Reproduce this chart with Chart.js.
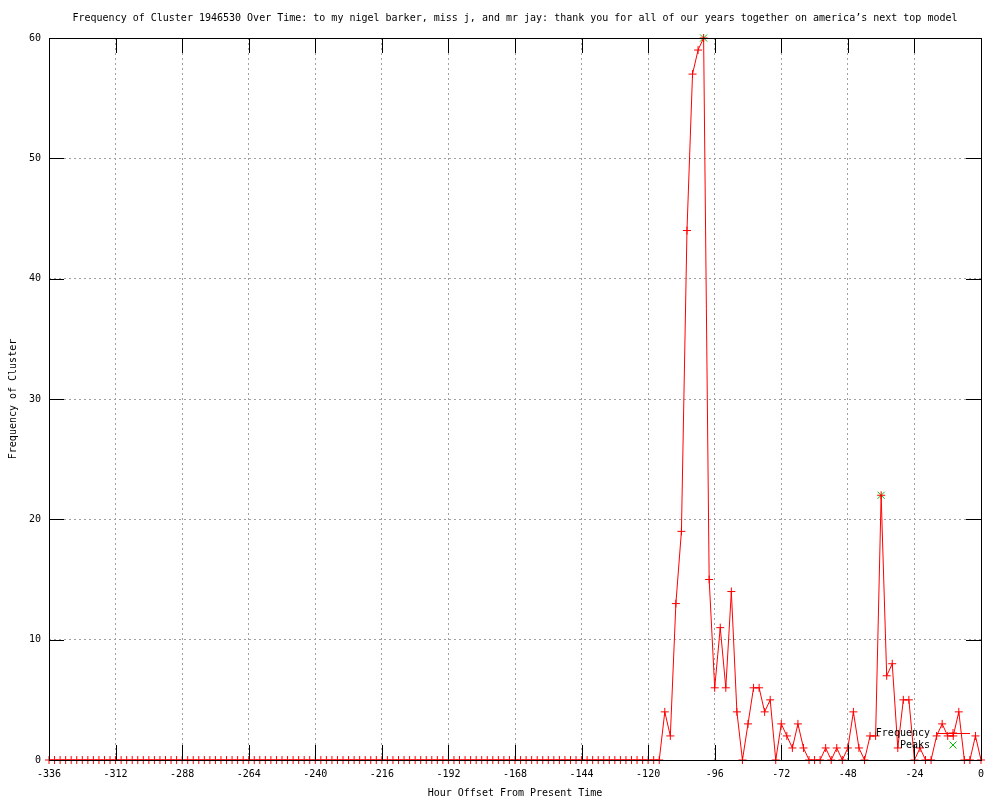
<!DOCTYPE html>
<html>
<head>
<meta charset="utf-8">
<script src="https://cdn.jsdelivr.net/npm/chart.js@4/dist/chart.umd.min.js"></script>
<style>
  body { margin: 0; background: #fff; }
  #wrap { width: 1000px; height: 800px; }
</style>
</head>
<body>
<div id="wrap"><canvas id="clusterChart" width="1000" height="800"></canvas></div>
<script>
// hour offsets (every 2 hours)
const hours = [
  -336, -334, -332, -330, -328, -326, -324, -322, -320, -318, -316, -314,
  -312, -310, -308, -306, -304, -302, -300, -298, -296, -294, -292, -290,
  -288, -286, -284, -282, -280, -278, -276, -274, -272, -270, -268, -266,
  -264, -262, -260, -258, -256, -254, -252, -250, -248, -246, -244, -242,
  -240, -238, -236, -234, -232, -230, -228, -226, -224, -222, -220, -218,
  -216, -214, -212, -210, -208, -206, -204, -202, -200, -198, -196, -194,
  -192, -190, -188, -186, -184, -182, -180, -178, -176, -174, -172, -170,
  -168, -166, -164, -162, -160, -158, -156, -154, -152, -150, -148, -146,
  -144, -142, -140, -138, -136, -134, -132, -130, -128, -126, -124, -122,
  -120, -118, -116, -114, -112, -110, -108, -106, -104, -102, -100, -98,
  -96, -94, -92, -90, -88, -86, -84, -82, -80, -78, -76, -74,
  -72, -70, -68, -66, -64, -62, -60, -58, -56, -54, -52, -50,
  -48, -46, -44, -42, -40, -38, -36, -34, -32, -30, -28, -26,
  -24, -22, -20, -18, -16, -14, -12, -10, -8, -6, -4, -2,
  0
];
const frequency = [
  0, 0, 0, 0, 0, 0, 0, 0, 0, 0, 0, 0,
  0, 0, 0, 0, 0, 0, 0, 0, 0, 0, 0, 0,
  0, 0, 0, 0, 0, 0, 0, 0, 0, 0, 0, 0,
  0, 0, 0, 0, 0, 0, 0, 0, 0, 0, 0, 0,
  0, 0, 0, 0, 0, 0, 0, 0, 0, 0, 0, 0,
  0, 0, 0, 0, 0, 0, 0, 0, 0, 0, 0, 0,
  0, 0, 0, 0, 0, 0, 0, 0, 0, 0, 0, 0,
  0, 0, 0, 0, 0, 0, 0, 0, 0, 0, 0, 0,
  0, 0, 0, 0, 0, 0, 0, 0, 0, 0, 0, 0,
  0, 0, 0, 4, 2, 13, 19, 44, 57, 59, 60, 15,
  6, 11, 6, 14, 4, 0, 3, 6, 6, 4, 5, 0,
  3, 2, 1, 3, 1, 0, 0, 0, 1, 0, 1, 0,
  1, 4, 1, 0, 2, 2, 22, 7, 8, 1, 5, 5,
  0, 1, 0, 0, 2, 3, 2, 2, 4, 0, 0, 2,
  0
];
const peakHours = [-100, -36];
const peakValues = [60, 22];
const xTicks = [-336, -312, -288, -264, -240, -216, -192, -168, -144, -120, -96, -72, -48, -24, 0];
const yTicks = [0, 10, 20, 30, 40, 50, 60];

const monoFont = { family: 'DejaVu Sans Mono', size: 10 };

// gnuplot style border with inward tick marks on all sides, plus the key
const framePlugin = {
    id: 'frame',
    afterDatasetsDraw(chart) {
        const ctx = chart.ctx;
        const a = chart.chartArea;
        const xs = chart.scales.x, ys = chart.scales.y;
        const tl = 15;
        ctx.save();
        ctx.strokeStyle = '#000';
        ctx.lineWidth = 1;
        ctx.beginPath();
        xTicks.forEach(v => {
            const px = Math.round(xs.getPixelForValue(v)) + 0.5;
            ctx.moveTo(px, a.bottom); ctx.lineTo(px, a.bottom - tl);
            ctx.moveTo(px, a.top); ctx.lineTo(px, a.top + tl);
        });
        yTicks.forEach(v => {
            const py = Math.round(ys.getPixelForValue(v)) + 0.5;
            ctx.moveTo(a.left, py); ctx.lineTo(a.left + tl, py);
            ctx.moveTo(a.right, py); ctx.lineTo(a.right - tl, py);
        });
        ctx.stroke();
        ctx.strokeRect(Math.round(a.left) + 0.5, Math.round(a.top) + 0.5,
            Math.round(a.right - a.left), Math.round(a.bottom - a.top));

        // key
        const ds = chart.data.datasets;
        const kx = a.right - 51, ky = a.bottom - 27;
        ctx.font = '10px "DejaVu Sans Mono"';
        ctx.fillStyle = '#000';
        ctx.textAlign = 'right';
        ctx.textBaseline = 'middle';
        ds.forEach((d, i) => {
            const y = ky + i * 12;
            ctx.fillText(d.label, kx, y);
            ctx.strokeStyle = d.borderColor;
            if (d.showLine !== false) {
                ctx.beginPath();
                ctx.moveTo(kx + 6, y + 0.5); ctx.lineTo(kx + 40, y + 0.5);
                ctx.stroke();
            }
            Chart.helpers.drawPoint(ctx, {
                pointStyle: d.pointStyle, radius: d.pointRadius, borderWidth: 1
            }, kx + 23, y);
        });
        ctx.restore();
    }
};

const ctx = document.getElementById('clusterChart').getContext('2d');
const clusterChart = new Chart(ctx, {
    type: 'line',
    data: {
        datasets: [{
            label: 'Frequency',
            data: hours.map((h, i) => ({ x: h, y: frequency[i] })),
            borderColor: '#ff0000',
            backgroundColor: '#ff0000',
            borderWidth: 1,
            tension: 0,
            fill: false,
            clip: false,
            pointStyle: 'cross',
            pointRadius: 4,
            pointBorderWidth: 1,
            pointBorderColor: '#ff0000'
        }, {
            label: 'Peaks',
            data: peakHours.map((h, i) => ({ x: h, y: peakValues[i] })),
            borderColor: '#00c000',
            backgroundColor: '#00c000',
            showLine: false,
            clip: false,
            pointStyle: 'crossRot',
            pointRadius: 5,
            pointBorderWidth: 1,
            pointBorderColor: '#00c000'
        }]
    },
    options: {
        responsive: false,
        animation: false,
        layout: {
            padding: { left: 0, right: 19, top: 0, bottom: 0 }
        },
        plugins: {
            legend: { display: false },
            tooltip: { enabled: false },
            title: {
                display: true,
                fullSize: false,
                text: 'Frequency of Cluster 1946530 Over Time: to my nigel barker, miss j, and mr jay: thank you for all of our years together on america\u2019s next top model',
                color: '#000',
                font: { family: 'DejaVu Sans Mono', size: 10, weight: 'normal' },
                padding: { top: 12, bottom: 14 }
            }
        },
        scales: {
            x: {
                type: 'linear',
                min: -336,
                max: 0,
                afterBuildTicks: scale => { scale.ticks = xTicks.map(v => ({ value: v })); },
                afterFit: scale => { scale.height = 40; },
                grid: {
                    drawTicks: false,
                    color: c => (c.index === 0 || c.index === xTicks.length - 1) ? 'rgba(0,0,0,0)' : '#a0a0a0'
                },
                border: { display: false, dash: [2, 3] },
                ticks: {
                    color: '#000',
                    font: monoFont,
                    padding: 8,
                    maxRotation: 0,
                    autoSkip: false,
                    callback: v => String(v)
                },
                title: {
                    display: true,
                    text: 'Hour Offset From Present Time',
                    color: '#000',
                    font: monoFont,
                    padding: { top: 0, bottom: 1 }
                }
            },
            y: {
                min: 0,
                max: 60,
                afterBuildTicks: scale => { scale.ticks = yTicks.map(v => ({ value: v })); },
                afterFit: scale => { scale.width = 49; },
                grid: {
                    drawTicks: false,
                    color: c => (c.index === 0 || c.index === yTicks.length - 1) ? 'rgba(0,0,0,0)' : '#a0a0a0'
                },
                border: { display: false, dash: [2, 3] },
                ticks: {
                    color: '#000',
                    font: monoFont,
                    padding: 8,
                    callback: v => String(v)
                },
                title: {
                    display: true,
                    text: 'Frequency of Cluster',
                    color: '#000',
                    font: monoFont,
                    padding: { top: 7, bottom: 0 }
                }
            }
        }
    },
    plugins: [framePlugin]
});
</script>
</body>
</html>
